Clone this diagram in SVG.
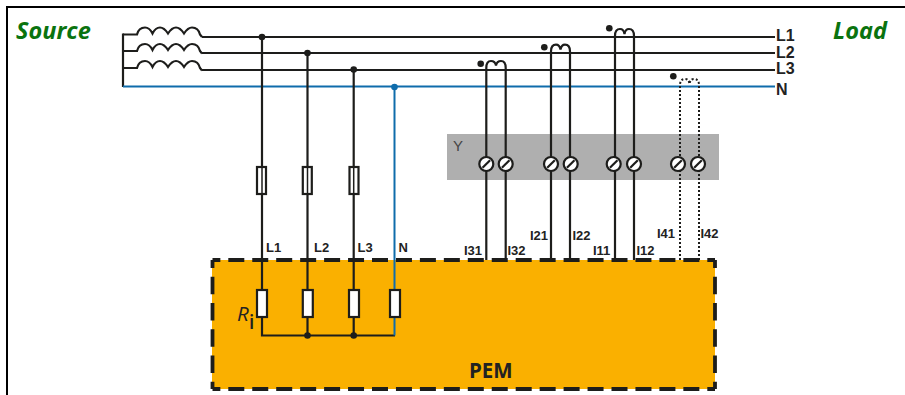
<svg xmlns="http://www.w3.org/2000/svg" width="905" height="395" viewBox="0 0 905 395">
<defs>
<style>
text{font-family:"Liberation Sans",Arial,sans-serif;fill:#222}
.w{fill:none;stroke:#1d1d1b;stroke-width:2.200}
.n{fill:none;stroke:#0f6cab;stroke-width:2}
.d{fill:none;stroke:#1d1d1b;stroke-width:2;stroke-dasharray:2 2}
.s{font-size:13px;font-weight:bold}
.l{font-size:16px;font-weight:bold}
.g{font-family:"Open Sans",sans-serif;font-size:23.500px;font-weight:bold;font-style:italic;fill:#0a730f}
.r{fill:#fff;stroke:#1d1d1b;stroke-width:2.200}
.e{fill:none;stroke:#1d1d1b;stroke-width:3.800}
.h{stroke-dasharray:16 7.950;stroke-dashoffset:8.150}
.v{stroke-dasharray:17.500 8.750;stroke-dashoffset:9.550}
</style>
<g id="term"><circle r="7" fill="#fff" stroke="#1d1d1b" stroke-width="2.200"/><line x1="-3.800" y1="3.800" x2="3.800" y2="-3.800" stroke="#1d1d1b" stroke-width="2.200"/></g>
<circle id="dot" r="3.300" fill="#1d1d1b"/>
<path id="coil" class="w" d="M0 0H14C15 -4 18 -7 22 -7C26 -7 28 -4 29.500 -1C31 -4 33 -7 37 -7C41 -7 43 -4 45 -1C47 -4 49 -7 53 -7C57 -7 59 -4 61 -1C63 -4 65 -7 69 -7C73 -7 76 -4 77 0L79 2.500"/>
</defs>
<rect width="905" height="395" fill="#fff"/>
<path d="M7 395V7H905" fill="none" stroke="#000" stroke-width="2"/>
<g id="source"><text class="g" x="16" y="38.500">Source</text></g>
<g id="load"><text class="g" x="833" y="38.500">Load</text></g>
<g id="y-block"><rect x="447" y="134" width="272" height="46" fill="#afafaf"/><text x="453" y="151" font-size="15" style="fill:#444">Y</text></g>
<g id="pem"><rect x="212" y="260" width="503" height="129" fill="#fab000"/>
<path class="e h" d="M212.500 260H715"/><path class="e h" d="M212.500 389H715"/>
<path class="e v" d="M212.500 260V389"/><path class="e v" d="M715 260V389"/>
<text x="469" y="377.500" style="font-family:'Open Sans',sans-serif;font-weight:700" font-size="20.500">PEM</text></g>
<g id="connectors">
<use href="#coil" x="123" y="34.500"/><use href="#coil" x="123" y="51"/><use href="#coil" x="123" y="68"/>
<path class="w" d="M123 33.500V87"/>
<path class="w" d="M202 37H775M202 53H775M202 70H775"/>
<path class="n" d="M123 86.500H775"/>
<path class="w" d="M262 37V335.500H395M307.500 53V335.500M353.700 70V335.500"/>
<path class="n" d="M394.500 87V335.500"/>
<path class="w" d="M486.300 260V68C486.300 63 488 61 491 61C494 61 495.500 63 496 65.500C496.500 63 498 61 501 61C504 61 505.700 63 505.700 68V260"/>
<path class="w" d="M551 260V51.500C551 47 553 44.700 556 44.700C559 44.700 560 47 560.500 49.500C561 47 562 44.700 565 44.700C568 44.700 570 47 570 51.500V260"/>
<path class="w" d="M615 260V36C615 31 617 29 620 29C623 29 624 31 624.500 34C625 31 626 29 629 29C632 29 634 31 634 36V260"/>
<path class="d" d="M680 260V85C680 81 682 79 685 79C688 79 689 81 689.500 84C690 81 691 79 694 79C697 79 699 81 699 85V260"/>
<use href="#dot" x="262" y="37"/><use href="#dot" x="307.500" y="53"/><use href="#dot" x="353.700" y="69.500"/>
<circle cx="394.500" cy="87" r="3.300" fill="#0f6cab"/>
<use href="#dot" x="480.700" y="63.700"/><use href="#dot" x="544.300" y="47.300"/><use href="#dot" x="609.300" y="28.300"/><use href="#dot" x="673.300" y="76.300"/>
<use href="#dot" x="307.500" y="335.500"/><use href="#dot" x="353.700" y="335.500"/>
</g>
<g id="fuses">
<rect class="r" x="257" y="167" width="9" height="27"/><rect class="r" x="302.800" y="167" width="9" height="27"/><rect class="r" x="349.500" y="167" width="9" height="27"/>
<path d="M262 167V194M307.500 167V194M353.700 167V194" stroke="#1d1d1b" stroke-width="1.500"/>
</g>
<g id="resistors">
<rect class="r" x="257" y="290" width="10" height="27"/><rect class="r" x="302.800" y="290" width="10" height="27"/><rect class="r" x="349" y="290" width="10" height="27"/><rect class="r" x="390" y="290" width="10" height="27"/>
</g>
<g id="terminals">
<use href="#term" x="486.300" y="164"/><use href="#term" x="505.700" y="164"/><use href="#term" x="551" y="164"/><use href="#term" x="570.700" y="164"/><use href="#term" x="613.700" y="164"/><use href="#term" x="634" y="164"/><use href="#term" x="678" y="164"/><use href="#term" x="698" y="164"/>
</g>
<g id="labels">
<text class="l" x="776" y="41">L1</text><text class="l" x="776" y="57.500">L2</text><text class="l" x="776" y="74">L3</text><text class="l" x="776" y="94.500">N</text>
<text class="s" x="266" y="252">L1</text><text class="s" x="314" y="252">L2</text><text class="s" x="357.500" y="252">L3</text><text class="s" x="398.500" y="252">N</text>
<text class="s" x="464" y="255">I31</text><text class="s" x="507.500" y="255">I32</text><text class="s" x="530" y="240">I21</text><text class="s" x="572.500" y="240">I22</text><text class="s" x="593" y="254.500">I11</text><text class="s" x="636.500" y="254.500">I12</text><text class="s" x="657" y="238">I41</text><text class="s" x="700.500" y="238">I42</text>
<text x="237" y="320.500" font-size="20.500" font-style="italic" style="font-family:'Open Sans',sans-serif">R</text><text x="249" y="329" font-size="19" style="font-family:'Open Sans',sans-serif;font-weight:600">i</text>
</g>
</svg>
